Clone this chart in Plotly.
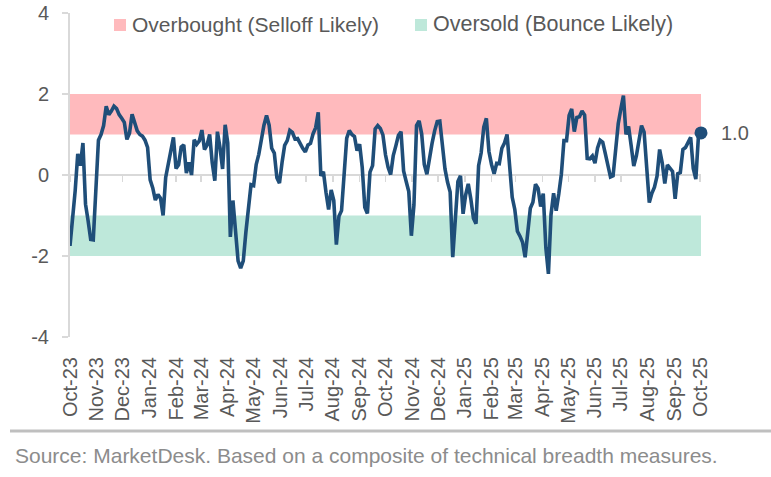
import plotly.graph_objects as go
import pandas as pd

# ---------------- data ----------------
START_DATE = "2023-10-01"
STEP = "3D"
values = [
    -1.75, -1.09, -0.39, 0.52, 0.23, 0.79, -0.72, -1.13, -1.59, -1.6,
    -0.18, 0.86, 1.0, 1.22, 1.7, 1.49, 1.58, 1.70, 1.64, 1.49,
    1.40, 1.30, 0.88, 1.03, 1.5, 1.30, 1.09, 1.0, 0.96, 0.86,
    0.68, -0.12, -0.32, -0.62, -0.48, -0.57, -1.0, -0.06, 0.28, 0.58,
    0.93, 0.16, 0.25, 0.69, 0.74, 0.05, 0.31, 0.0, 0.87, 0.76,
    0.84, 1.11, 0.63, 0.74, 1.0, 0.3, -0.14, 1.07, 0.68, 0.15,
    1.24, 0.79, -1.53, -0.63, -1.33, -2.12, -2.30, -2.12, -1.42, -0.72,
    -0.24, -0.26, 0.26, 0.51, 0.91, 1.23, 1.47, 1.23, 0.66, 0.54,
    -0.07,
    -0.2, 0.31, 0.73, 0.85, 1.1, 1.05, 0.89, 0.9, 0.76, 0.66,
    0.57, 0.74, 0.78, 1.02, 1.17, 1.55, -0.02, 0.08, -0.43, -0.85,
    -0.37, -0.63, -1.72, -1.02, -0.88, -0.1, 0.91, 1.10, 1.0, 0.95,
    0.6, 0.76, 0.19, -0.8, -0.95, 0.07, 0.23, 1.14, 1.22, 1.15,
    0.99, 0.5, 0.19, 0.01, 0.48, 0.72, 0.98, 1.07, 0.1, -0.16,
    -0.41, -1.50, -0.74, 1.22, 1.34, 1.01, 0.26, 0.02, 0.45, 0.78,
    1.09, 1.32, 1.33, 0.82, 0.15, -0.18, -0.42, -2.03, -1.13, -0.16,
    -0.02, -0.96, -0.49, -0.22, -0.59, -1.07, -1.2, 0.23, 0.55, 1.18,
    1.4,
    0.58, 0.26, 0.03, 0.29, 0.28, 0.66, 0.79, 1.0, 0.12, -0.55,
    -0.85, -1.39, -1.51, -1.66, -2.03, -1.44, -0.82, -0.67, -0.23, -0.33,
    -0.78, -0.46, -1.79, -2.44, -0.98, -0.45, -0.88, -0.47, 0.02, 0.85,
    0.85, 1.47, 1.63, 1.07, 1.42, 1.44, 1.58, 1.48, 0.41, 0.40,
    0.47,
    0.29, 0.67, 0.86, 0.81, 0.53, 0.26, -0.05, -0.02, 0.76, 1.27,
    1.63, 1.96, 1.0, 1.2, 0.72, 0.22, 0.47, 0.82, 1.22, 1.06,
    0.11, -0.68, -0.45, -0.3, -0.03, 0.63, 0.3, -0.21, 0.25, 0.15,
    0.09, -0.59, 0.03, 0.06, 0.63, 0.68, 0.81, 0.93, 0.16, -0.1,
    0.95, 1.04,
]
overbought_band = [1, 2]
oversold_band = [-2, -1]
band_labels = ["Overbought (Selloff Likely)", "Oversold (Bounce Likely)"]
y_ticks = [-4, -2, 0, 2, 4]
y_tick_text = ["-4", "-2", "0", "2", "4"]
source_text = "Source: MarketDesk. Based on a composite of technical breadth measures."

dates = pd.date_range(START_DATE, periods=len(values), freq=STEP)

# ---------------- style ----------------
W, H = 771, 477
PL, PT, PW, PH = 70, 13, 631, 324   # plot box in page pixels
ML, MT = PL, PT
MR, MB = W - ML - PW, H - MT - PH
FONT = "Liberation Sans, Arial, sans-serif"
TXT = "#595959"
AXC = "#d9d9d9"
LINE = "#1F4E79"
PINK = "#FFBABD"
GREEN = "#BEE8DA"


def px(xp):
    return (xp - PL) / PW


def py(yp):
    return (PT + PH - yp) / PH


fig = go.Figure()

# zero-line axis carrier (invisible)
fig.add_trace(go.Scatter(x=dates, y=values, xaxis="x2", mode="lines",
                         line=dict(width=0, color="rgba(0,0,0,0)"),
                         hoverinfo="skip", showlegend=False))
# main line
fig.add_trace(go.Scatter(x=dates, y=values, mode="lines",
                         line=dict(color=LINE, width=3.6),
                         showlegend=False, cliponaxis=False))
# end marker
fig.add_trace(go.Scatter(x=[dates[-1]], y=[values[-1]], mode="markers",
                         marker=dict(color=LINE, size=13),
                         showlegend=False, cliponaxis=False))

shapes = []
for band, col in [(overbought_band, PINK), (oversold_band, GREEN)]:
    shapes.append(dict(type="rect", xref="x", yref="y", x0=dates[0], x1=dates[-1],
                       y0=band[0], y1=band[1], fillcolor=col, line=dict(width=0),
                       layer="below"))
# legend swatches
for x0, col in [(114, PINK), (415, GREEN)]:
    shapes.append(dict(type="rect", xref="paper", yref="paper",
                       x0=px(x0), x1=px(x0 + 12), y0=py(31), y1=py(19),
                       fillcolor=col, line=dict(width=0)))
# separator line
shapes.append(dict(type="line", xref="paper", yref="paper",
                   x0=px(10), x1=px(771), y0=py(431), y1=py(431),
                   line=dict(color="#bfbfbf", width=3)))

annotations = [
    dict(xref="paper", yref="paper", x=px(130), y=py(24), text=band_labels[0],
         showarrow=False, xanchor="left", yanchor="middle",
         font=dict(family=FONT, size=21, color=TXT)),
    dict(xref="paper", yref="paper", x=px(431), y=py(24), text=band_labels[1],
         showarrow=False, xanchor="left", yanchor="middle",
         font=dict(family=FONT, size=21.5, color=TXT)),
    dict(xref="x", yref="y", x=dates[-1], y=values[-1], text=f"{values[-1]:.1f}",
         showarrow=False, xanchor="left", yanchor="middle", xshift=18,
         font=dict(family=FONT, size=20, color=TXT)),
    dict(xref="paper", yref="paper", x=px(13), y=py(455), text=source_text,
         showarrow=False, xanchor="left", yanchor="middle",
         font=dict(family=FONT, size=21, color="#8c8c8c")),
]

xrange = [dates[0], dates[-1]]
fig.update_layout(
    width=W, height=H,
    margin=dict(l=ML, r=MR, t=MT, b=MB, pad=0, autoexpand=False),
    paper_bgcolor="white", plot_bgcolor="white",
    font=dict(family=FONT, size=20, color=TXT),
    shapes=shapes, annotations=annotations,
    xaxis=dict(type="date", range=xrange, tickformat="%b-%y", dtick="M1",
               tick0=START_DATE, tickangle=-90, showline=False, showgrid=False,
               zeroline=False, ticks="", ticklabelstandoff=15, automargin=False,
               ticklabeloverflow="allow",
               tickfont=dict(family=FONT, size=20, color=TXT)),
    xaxis2=dict(type="date", range=xrange, overlaying="x", anchor="free",
                position=0.5, side="bottom", dtick="M1", tick0=START_DATE,
                showticklabels=False, showgrid=False, zeroline=False,
                showline=True, linecolor=AXC, linewidth=2, ticks="outside",
                ticklen=6, tickwidth=1.5, tickcolor=AXC, layer="below traces",
                automargin=False),
    yaxis=dict(range=[-4, 4], tickvals=y_ticks, ticktext=y_tick_text,
               showgrid=False, zeroline=False, automargin=False,
               showline=True, linecolor=AXC, linewidth=2, ticks="outside",
               ticklen=6, tickcolor=AXC, tickwidth=1.5, ticklabelstandoff=9,
               ticklabeloverflow="allow",
               tickfont=dict(family=FONT, size=20, color=TXT)),
    showlegend=False,
    hovermode=False,
)

fig.write_html("out.html",
               config={"displayModeBar": False, "staticPlot": True},
               post_script="document.body.style.margin='0';"
                           "document.body.style.overflow='hidden';")
